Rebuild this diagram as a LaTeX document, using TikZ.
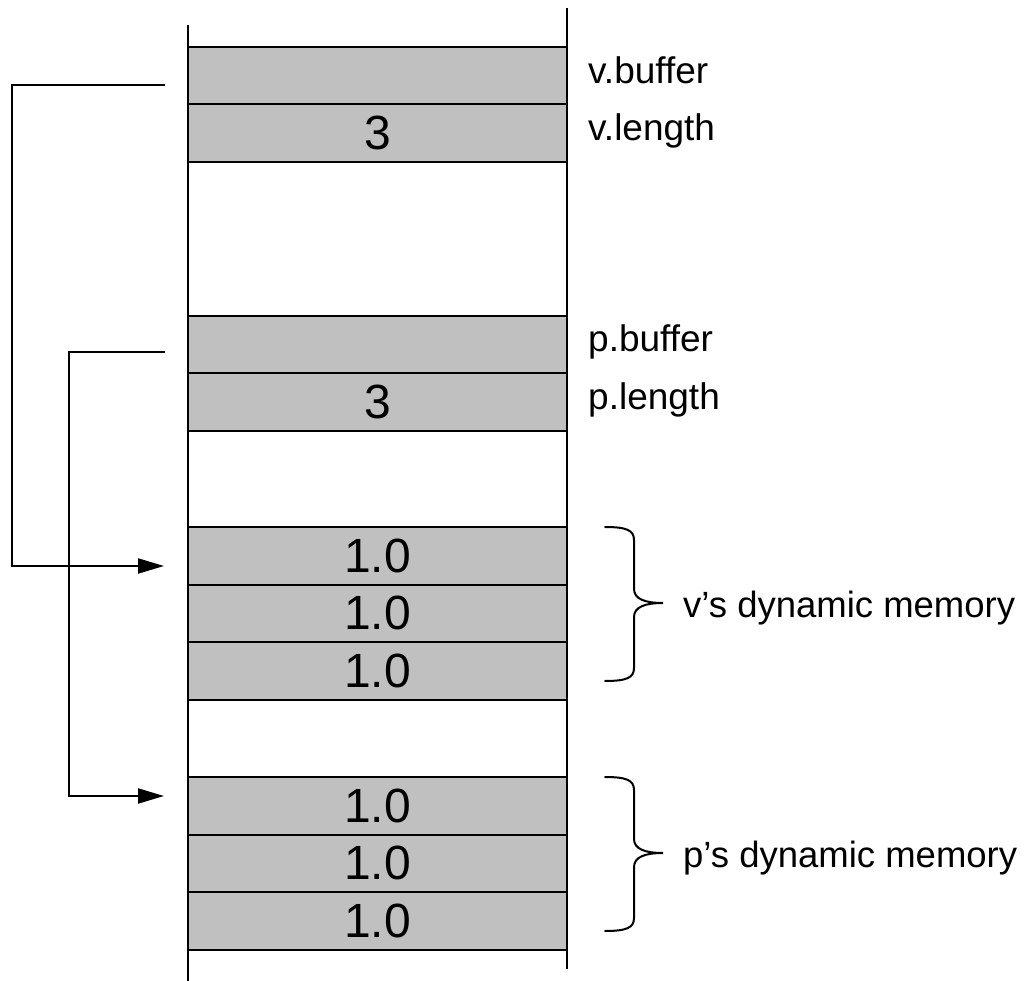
\documentclass[tikz,border=0pt]{standalone}
\usepackage{fontspec}
\setmainfont{Liberation Sans}
\usetikzlibrary{arrows.meta}
\definecolor{cellgray}{RGB}{192,192,192}
\tikzset{
  cell/.style={draw=black, fill=cellgray, line width=2pt, rectangle,
    minimum width=379pt, minimum height=57.5pt, inner sep=0pt,
    font=\fontsize{48}{48}\selectfont},
  lbl/.style={anchor=base west, inner sep=0pt, font=\fontsize{37}{37}\selectfont},
  bracetext/.style={anchor=base west, inner sep=0pt, font=\fontsize{36.5}{36.5}\selectfont},
  wall/.style={line width=2.2pt},
  ptr/.style={line width=2pt, -{Triangle[length=26pt,width=15pt]}},
  brace/.style={line width=2pt, line cap=round}
}
\begin{document}
\begin{tikzpicture}[x=1pt,y=-1pt]
  \useasboundingbox (0,0) rectangle (1029,981);

  % memory cells
  \node[cell] (vbuf) at (377.5,75.75)  {};
  \node[cell] (vlen) at (377.5,133.25) {3};
  \node[cell] (pbuf) at (377.5,344.75) {};
  \node[cell] (plen) at (377.5,402.25) {3};
  \node[cell] (va)   at (377.5,555.75) {1.0};
  \node[cell] (vb)   at (377.5,613.25) {1.0};
  \node[cell] (vc)   at (377.5,670.75) {1.0};
  \node[cell] (pa)   at (377.5,805.75) {1.0};
  \node[cell] (pb)   at (377.5,863.25) {1.0};
  \node[cell] (pc)   at (377.5,920.75) {1.0};

  % side walls of the memory column
  \coordinate (lwtop) at (188,25);
  \coordinate (lwbot) at (188,981);
  \coordinate (rwtop) at (567,8);
  \coordinate (rwbot) at (567,969);
  \draw[wall] (lwtop) -- (lwbot);
  \draw[wall] (rwtop) -- (rwbot);

  % variable names
  \node[lbl] (tvbuf) at (588,84)  {v.buffer};
  \node[lbl] (tvlen) at (588,141) {v.length};
  \node[lbl] (tpbuf) at (588,352) {p.buffer};
  \node[lbl] (tplen) at (588,410) {p.length};

  % pointers from the buffers to the heap blocks
  \coordinate (vsrc) at (165,85);
  \coordinate (vdst) at (164,566);
  \coordinate (psrc) at (165,352);
  \coordinate (pdst) at (164,796);
  \draw[ptr] (vsrc) -- (12,85) -- (12,566) -- (vdst);
  \draw[ptr] (psrc) -- (69,352) -- (69,796) -- (pdst);

  % braces and their captions
  \draw[brace] (605,527) .. controls (626,527) and (634,530) .. (634,540)
    -- (634,589) .. controls (634,599) and (645,603) .. (663,603)
    .. controls (645,603) and (634,607) .. (634,617)
    -- (634,668) .. controls (634,678) and (626,681) .. (605,681);
  \node[bracetext] (vdyn) at (683,617) {v’s dynamic memory};

  \draw[brace] (605,777) .. controls (626,777) and (634,780) .. (634,790)
    -- (634,839) .. controls (634,849) and (645,853) .. (663,853)
    .. controls (645,853) and (634,857) .. (634,867)
    -- (634,918) .. controls (634,928) and (626,931) .. (605,931);
  \node[bracetext] (pdyn) at (683,867) {p’s dynamic memory};
\end{tikzpicture}
\end{document}
